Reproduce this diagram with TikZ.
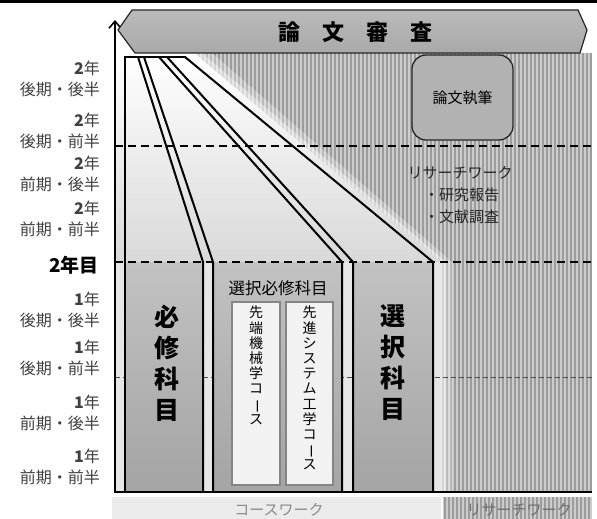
\documentclass[tikz,border=0pt]{standalone}
\usepackage{fontspec}
\usepackage{graphicx}
\newfontfamily\jp{Noto Sans CJK JP}
\usetikzlibrary{arrows.meta}
\definecolor{stripebg}{HTML}{CCCCCC}
\definecolor{stripedark}{HTML}{9C9C9C}
\definecolor{lblgray}{HTML}{404040}
\definecolor{boxtop}{HTML}{C2C2C2}
\definecolor{boxbot}{HTML}{A4A4A4}
\definecolor{bannerfill}{HTML}{A9A9A9}
\definecolor{lightbot}{HTML}{D9D9D9}
\definecolor{lowlight}{HTML}{E6E6E6}
\definecolor{innerfill}{HTML}{F2F2F2}
\definecolor{innerdraw}{HTML}{858585}
\definecolor{botbar}{HTML}{EBEBEB}
\definecolor{bottxt}{HTML}{8A8A8A}
\newcommand{\vbar}{\rotatebox[origin=c]{-90}{ー}}
\begin{document}
\begin{tikzpicture}[x=1pt,y=-1pt,
  blk/.style={line width=2pt, black, line join=miter},
  colbox/.style={top color=boxtop, bottom color=boxbot, draw=none},
  thickdash/.style={line width=2pt, dash pattern=on 8pt off 5pt},
  thindash/.style={line width=0.8pt, color=black!70, dash pattern=on 5pt off 3pt},
  stripe/.style={line width=1.3pt, color=stripedark},
  lbl/.style={font=\jp\fontsize{16}{21}\selectfont, text=lblgray, align=right, anchor=east, inner sep=0pt},
  vbig/.style={font=\jp\bfseries\fontsize{25}{31}\selectfont, align=center, inner sep=0pt},
  vsmall/.style={font=\jp\fontsize{14}{15.2}\selectfont, align=center, inner sep=0pt, anchor=north},
  rtext/.style={font=\jp\fontsize{15}{15}\selectfont, text=black!85, inner sep=0pt}
]
\useasboundingbox (0,0) rectangle (597,519);
\fill[white] (0,0) rectangle (597,519);
\fill[black] (0,0) rectangle (597,3);

% research-work striped area
\fill[stripebg] (125,53) rectangle (592,492);
\foreach \x in {127,131,...,591} \draw[stripe] (\x,53) -- (\x,492);

% glow layers
\fill[white,opacity=0.3] (116,53) -- (212,53) -- (452,262) -- (452,492) -- (116,492) -- cycle;
\fill[white,opacity=0.4] (116,53) -- (202,53) -- (446,262) -- (446,492) -- (116,492) -- cycle;

% course-work light area
\fill[lowlight] (116,53) -- (194,53) -- (441,262) -- (441,492) -- (116,492) -- cycle;
\shade[top color=white, bottom color=lightbot] (116,53) -- (194,53) -- (441,262) -- (116,262) -- cycle;

% thin dashed line
\draw[thindash] (115,377) -- (592,377);

% grey column boxes
\fill[colbox] (125,262) rectangle (203,492);
\fill[colbox] (213,262) rectangle (342,492);
\fill[colbox] (353,262) rectangle (433,492);

% inner course boxes
\node[draw=innerdraw, line width=1.2pt, fill=innerfill, minimum width=48pt, minimum height=183pt, inner sep=0pt] (box1) at (256,393.5) {};
\node[draw=innerdraw, line width=1.2pt, fill=innerfill, minimum width=47pt, minimum height=183pt, inner sep=0pt] (box2) at (309.5,393.5) {};

% column outlines
\draw[blk] (125,57) -- (125,492);
\draw[blk] (138,57) -- (203,262) -- (203,492);
\draw[blk] (144,57) -- (213,262) -- (213,492);
\draw[blk] (159,57) -- (342,262) -- (342,492);
\draw[blk] (167,57) -- (353,262) -- (353,492);
\draw[blk] (185,57) -- (433,262) -- (433,492);
\draw[blk] (124,57) -- (186,57);

% thick dashed lines
\draw[thickdash] (115,146) -- (592,146);
\draw[thickdash] (115,262) -- (592,262);

% bottom line and axis
\draw[line width=2.2pt] (114,492) -- (592,492);
\draw[line width=1.6pt, -{Straight Barb[length=7pt,width=12pt]}] (115,492) -- (115,20);

% banner
\draw[line width=1.2pt, top color=bannerfill!80, bottom color=bannerfill, draw=black!85]
  (132,10) -- (578,10) -- (587,30) -- (580,53) -- (135,53) -- (118,30) -- cycle;
\node[font=\jp\bfseries\fontsize{22}{22}\selectfont, inner sep=0pt] (title) at (355,32) {論　文　審　査};

% thesis writing box
\node[draw=black!85, line width=1.3pt, fill=bannerfill!90, rounded corners=14pt,
      minimum width=101pt, minimum height=85pt, inner sep=0pt,
      font=\jp\fontsize{15}{15}\selectfont] (write) at (462.5,97.5) {論文執筆};

% research work text
\node[rtext] (rw) at (460,173) {リサーチワーク};
\node[rtext, anchor=west] (rw1) at (424,195) {・研究報告};
\node[rtext, anchor=west] (rw2) at (424,217) {・文献調査};

% column texts
\node[vbig] (hissu) at (167,363) {必\\修\\科\\目};
\node[vbig] (sentaku) at (393,363) {選\\択\\科\\目};
\node[font=\jp\fontsize{16.5}{16.5}\selectfont, inner sep=0pt] (senhis) at (278,288) {選択必修科目};
\node[vsmall] (c1) at (256,306) {先\\端\\機\\械\\学\\コ\\\vbar\\ス};
\node[vsmall] (c2) at (309.5,306) {先\\進\\シ\\ス\\テ\\ム\\工\\学\\コ\\\vbar\\ス};

% left labels
\node[lbl] (l1) at (100,78.5) {\textbf{2}年\\後期・後半};
\node[lbl] (l2) at (100,131) {\textbf{2}年\\後期・前半};
\node[lbl] (l3) at (100,173.5) {\textbf{2}年\\前期・後半};
\node[lbl] (l4) at (100,219) {\textbf{2}年\\前期・前半};
\node[font=\jp\bfseries\fontsize{19}{19}\selectfont, anchor=east, inner sep=0pt] (y2) at (99,265) {2年目};
\node[lbl] (l5) at (100,310) {\textbf{1}年\\後期・後半};
\node[lbl] (l6) at (100,358) {\textbf{1}年\\後期・前半};
\node[lbl] (l7) at (100,413) {\textbf{1}年\\前期・後半};
\node[lbl] (l8) at (100,467) {\textbf{1}年\\前期・前半};

% bottom bars
\fill[botbar] (112,497) rectangle (441,519);
\fill[stripebg] (443,497) rectangle (592,519);
\foreach \x in {445,449,...,591} \draw[stripe] (\x,497) -- (\x,519);
\node[font=\jp\fontsize{15}{15}\selectfont, text=bottxt, inner sep=0pt] (cw) at (279,510) {コースワーク};
\node[font=\jp\fontsize{15}{15}\selectfont, text=bottxt!80!black, inner sep=0pt] (rwb) at (519,510) {リサーチワーク};
\end{tikzpicture}
\end{document}
